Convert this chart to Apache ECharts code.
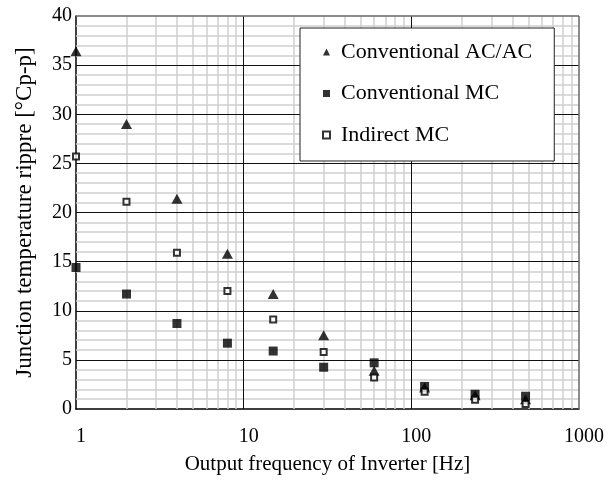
<!DOCTYPE html>
<html>
<head>
<meta charset="utf-8">
<script src="https://cdn.jsdelivr.net/npm/echarts@6/dist/echarts.min.js"></script>
<style>
  html, body { margin: 0; padding: 0; background: #fff; }
  #chart { width: 613px; height: 480px; }
</style>
</head>
<body>
<div id="chart"></div>
<script>
// output frequency [Hz]
const freq = [1, 2, 4, 8, 15, 30, 60, 120, 240, 480];
// junction temperature ripple [°C p-p]
const acac = [36.4, 29.0, 21.4, 15.8, 11.7, 7.5, 3.9, 2.2, 1.4, 1.0];
const convMC = [14.4, 11.7, 8.7, 6.7, 5.9, 4.25, 4.7, 2.3, 1.5, 1.3];
const indirectMC = [25.7, 21.1, 15.9, 12.0, 9.1, 5.8, 3.2, 1.75, 0.95, 0.5];

const xTicks = [1, 10, 100, 1000];
const xMinor = [2, 3, 4, 5, 6, 7, 8, 9, 20, 30, 40, 50, 60, 70, 80, 90, 200, 300, 400, 500, 600, 700, 800, 900];
const yMajor = [5, 10, 15, 20, 25, 30, 35];
const yMinor = [];
for (let v = 1; v < 40; v++) { if (v % 5 !== 0) yMinor.push(v); }

const font = 'Liberation Serif';

function pairs(xs, ys) {
  return xs.map((x, i) => [x, ys[i]]);
}

// grid lines drawn as markLines so the log axis gets its 2..9 minor lines
function gridLines(name, z, color, width, data) {
  return {
    name: name,
    type: 'line',
    data: [],
    z: z,
    silent: true,
    markLine: {
      z: z,
      silent: true,
      symbol: 'none',
      animation: false,
      label: { show: false },
      lineStyle: { color: color, width: width, type: 'solid' },
      data: data
    }
  };
}

const chart = echarts.init(document.getElementById('chart'));

const option = {
  backgroundColor: '#fff',
  animation: false,
  textStyle: { fontFamily: font },
  grid: { left: 76, right: 34, top: 16, bottom: 66 },
  legend: {
    z: 10,
    orient: 'vertical',
    left: 300,
    top: 28,
    padding: [13, 22, 15, 22],
    itemGap: 19.5,
    itemWidth: 7,
    itemHeight: 7,
    backgroundColor: '#fff',
    borderColor: '#222',
    borderWidth: 1,
    textStyle: { fontFamily: font, fontSize: 22, color: '#000', lineHeight: 22, padding: [0, 0, 0, 6] },
    data: ['Conventional AC/AC', 'Conventional MC', 'Indirect MC']
  },
  xAxis: {
    type: 'log',
    logBase: 10,
    min: 1,
    max: 1000,
    name: 'Output frequency of Inverter [Hz]',
    nameLocation: 'middle',
    nameGap: 45,
    nameTextStyle: { fontFamily: font, fontSize: 21, color: '#000' },
    axisLine: { show: true, lineStyle: { color: '#000', width: 1.5 } },
    axisTick: { show: false },
    splitLine: { show: false },
    axisLabel: {
      fontFamily: font, fontSize: 20, color: '#000', margin: 18,
      padding: [0, 0, 0, 10],
      formatter: v => String(v)
    }
  },
  yAxis: {
    type: 'value',
    min: 0,
    max: 40,
    interval: 5,
    name: 'Junction temperature rippre [°Cp-p]',
    nameLocation: 'middle',
    nameGap: 40,
    nameTextStyle: { fontFamily: font, fontSize: 23, color: '#000' },
    axisLine: { show: true, lineStyle: { color: '#000', width: 1.5 } },
    axisTick: { show: false },
    splitLine: { show: false },
    axisLabel: { fontFamily: font, fontSize: 20, color: '#000', margin: 4, padding: [6, 0, 0, 0] }
  },
  series: [
    gridLines('minorGrid', 1, '#cfcfcf', 1.5,
      xMinor.map(v => ({ xAxis: v })).concat(yMinor.map(v => ({ yAxis: v })))),
    gridLines('majorGrid', 2, '#111', 1,
      xTicks.slice(1, 3).map(v => ({ xAxis: v })).concat(yMajor.map(v => ({ yAxis: v })))),
    gridLines('frame', 2, '#666', 1.5, [{ xAxis: 1000 }, { yAxis: 40 }]),
    {
      name: 'Conventional AC/AC',
      type: 'scatter',
      z: 3,
      symbol: 'triangle',
      symbolSize: [11, 10],
      itemStyle: { color: '#000' },
      data: pairs(freq, acac)
    },
    {
      name: 'Conventional MC',
      type: 'scatter',
      z: 4,
      symbol: 'rect',
      symbolSize: 9,
      itemStyle: { color: '#000' },
      data: pairs(freq, convMC)
    },
    {
      name: 'Indirect MC',
      type: 'scatter',
      z: 5,
      symbol: 'rect',
      symbolSize: 6,
      itemStyle: { color: '#fff', borderColor: '#000', borderWidth: 2 },
      data: pairs(freq, indirectMC)
    }
  ]
};

chart.setOption(option);
</script>
</body>
</html>
